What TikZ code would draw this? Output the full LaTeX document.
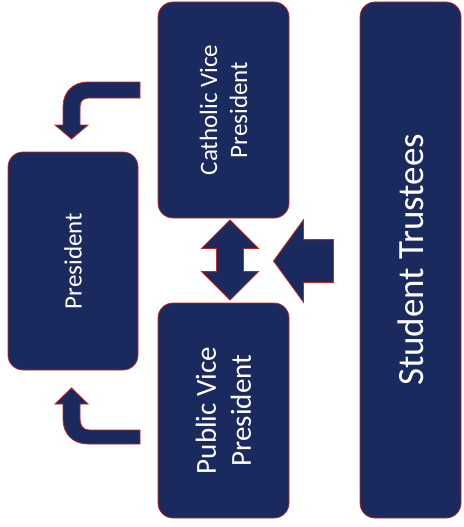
\documentclass[tikz,border=0pt]{standalone}
\usepackage{fontspec}
\setmainfont{Carlito}
\usetikzlibrary{shapes.arrows}
\definecolor{navy}{RGB}{27,42,94}
\definecolor{rim}{RGB}{190,40,35}
\begin{document}
\begin{tikzpicture}[x=1pt,y=-1pt,
    box/.style={draw=rim, fill=navy, line width=0.8pt, rounded corners=15pt, rotate=90, text=white, align=center, inner sep=0pt},
    blockarrow/.style={draw=rim, fill=navy, line width=0.8pt, inner sep=0pt}]
  \useasboundingbox (0,0) rectangle (463,527);
  \node[box, minimum width=216pt, minimum height=131pt, font=\fontsize{25}{30}\selectfont] (cvp) at (223.5,110) {Catholic Vice\\President};
  \node[box, minimum width=218pt, minimum height=130pt, font=\fontsize{25}{30}\selectfont] (pres) at (73,261) {President};
  \node[box, minimum width=215pt, minimum height=131pt, font=\fontsize{29}{35}\selectfont] (pvp) at (223.5,410.5) {Public Vice\\President};
  \node[box, minimum width=516pt, minimum height=101pt, font=\fontsize{37}{44}\selectfont] (st) at (410.5,260) {Student Trustees};
  % arrows between the boxes
  \node[blockarrow, double arrow, shape border rotate=90, inner sep=13pt, minimum height=80pt, minimum width=56pt, double arrow head extend=15pt] (link) at (230,260) {};
  \node[blockarrow, single arrow, shape border rotate=180, anchor=tip, inner sep=21pt, minimum height=60pt, minimum width=82pt, single arrow head extend=20pt, single arrow tip angle=108] (feed) at (273,261) {};
  \filldraw[blockarrow] (140,82) -- (88,82) .. controls (73,82) and (63,92) .. (63,107) -- (63,125) -- (55,125) -- (71.5,139) -- (88,125) -- (80,125) -- (80,107) .. controls (80,101) and (83,98) .. (89,98) -- (140,98) -- cycle;
  \filldraw[blockarrow] (140,444) -- (88,444) .. controls (73,444) and (63,434) .. (63,419) -- (63,404) -- (55,404) -- (71.5,388) -- (88,404) -- (80,404) -- (80,419) .. controls (80,425) and (83,430) .. (89,430) -- (140,430) -- cycle;
\end{tikzpicture}
\end{document}
